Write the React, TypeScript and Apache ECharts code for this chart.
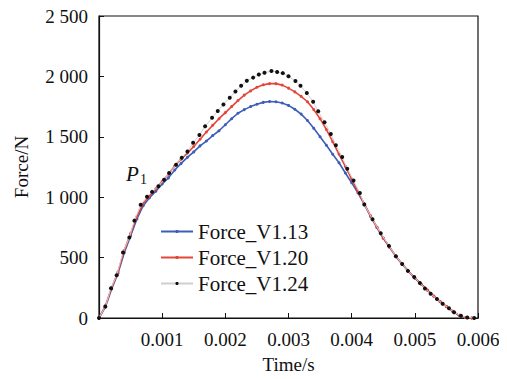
import React, { useEffect, useRef } from "react";
import * as echarts from "echarts";

const seriesNames = ["Force_V1.13", "Force_V1.20", "Force_V1.24"];
const seriesColors = ["#3d5db8", "#e2463a", "#111111"];

const timeGrid = [
  0, 0.0001, 0.0002, 0.0003, 0.0004, 0.0005, 0.0006, 0.0007, 0.0008, 0.0009,
  0.001, 0.0011, 0.0012, 0.0013, 0.0014, 0.0015, 0.0016, 0.0017, 0.0018, 0.0019,
  0.002, 0.0021, 0.0022, 0.0023, 0.0024, 0.0025, 0.0026, 0.0027, 0.0028, 0.0029,
  0.003, 0.0031, 0.0032, 0.0033, 0.0034, 0.0035, 0.0036, 0.0037, 0.0038, 0.0039,
  0.004, 0.0041, 0.0042, 0.0043, 0.0044, 0.0045, 0.0046, 0.0047, 0.0048, 0.0049,
  0.005, 0.0051, 0.0052, 0.0053, 0.0054, 0.0055, 0.0056, 0.0057, 0.0058, 0.0059,
];

const forceV113 = [
  0, 90, 240, 370, 540, 680, 820, 930, 995, 1050,
  1110, 1160, 1225, 1280, 1330, 1375, 1425, 1465, 1510, 1550,
  1600, 1650, 1695, 1725, 1750, 1770, 1785, 1792, 1790, 1780,
  1760, 1728, 1688, 1635, 1570, 1500, 1430, 1355, 1285, 1200,
  1120, 1035, 940, 840, 750, 660, 585, 510, 445, 385,
  330, 280, 230, 180, 135, 95, 55, 22, 5, 0,
];

const forceV120 = [
  0, 100, 250, 380, 560, 700, 840, 950, 1010, 1070,
  1130, 1190, 1260, 1315, 1365, 1420, 1480, 1540, 1595, 1650,
  1700, 1750, 1800, 1845, 1880, 1910, 1930, 1940, 1940, 1928,
  1903, 1872, 1835, 1790, 1725, 1650, 1560, 1460, 1355, 1255,
  1150, 1045, 945, 845, 752, 662, 587, 512, 447, 387,
  332, 282, 232, 182, 137, 96, 56, 22, 5, 0,
];

const timeV124 = [
  0, 0.0001, 0.00019, 0.00028, 0.00038, 0.00048, 0.00056, 0.00066, 0.00076, 0.00084,
  0.00094, 0.00103, 0.00111, 0.00122, 0.00131, 0.0014, 0.00149, 0.00159, 0.00168, 0.00179,
  0.00188, 0.00197, 0.00207, 0.00216, 0.00225, 0.00234, 0.00244, 0.00253, 0.00262, 0.00273,
  0.00282, 0.00291, 0.003, 0.00311, 0.00319, 0.00329, 0.00339, 0.00347, 0.00357, 0.00367,
  0.00375, 0.00385, 0.00393, 0.00403, 0.00413, 0.0042, 0.00433, 0.00446, 0.00459, 0.0047,
  0.0048, 0.00489, 0.00499, 0.00508, 0.00516, 0.00525, 0.00535, 0.00544, 0.00554, 0.00562,
  0.00573, 0.00583, 0.00594,
];

const forceV124 = [
  0, 95, 247, 354, 543, 666, 806, 937, 1003, 1044,
  1090, 1145, 1200, 1268, 1326, 1378, 1450, 1515, 1587, 1658,
  1713, 1768, 1823, 1875, 1922, 1964, 1990, 2015, 2030, 2045,
  2036, 2027, 2001, 1962, 1922, 1862, 1790, 1712, 1620, 1524,
  1430, 1332, 1236, 1138, 1035, 940, 818, 702, 597, 512,
  447, 390, 340, 290, 245, 200, 158, 118, 80, 48,
  18, 5, 0,
];

const yTicks = [0, 500, 1000, 1500, 2000, 2500];
const xTicks = [0, 0.001, 0.002, 0.003, 0.004, 0.005, 0.006];

const FONT = "'Liberation Serif', 'DejaVu Serif', serif";

function pairs(xs: number[], ys: number[]) {
  return xs.map((x, i) => [x, ys[i]]);
}

function fmtThousands(v: number) {
  const s = String(Math.round(v));
  if (s.length <= 3) return s;
  return s.slice(0, s.length - 3) + " " + s.slice(s.length - 3);
}

export default function App() {
  const ref = useRef<HTMLDivElement>(null);
  useEffect(() => {
    if (!ref.current) return;
    const chart = echarts.init(ref.current, undefined, { renderer: "svg" });
    chart.setOption({
      animation: false,
      backgroundColor: "#ffffff",
      grid: {
        left: 99,
        right: 29,
        top: 16,
        bottom: 59,
        show: true,
        borderColor: "#111",
        borderWidth: 1.2,
        backgroundColor: "transparent",
      },
      legend: {
        orient: "vertical",
        left: 155,
        top: 216,
        itemWidth: 32,
        itemHeight: 4,
        itemGap: 5,
        textStyle: { fontFamily: FONT, fontSize: 21, color: "#111" },
        data: seriesNames,
      },
      xAxis: {
        type: "value",
        min: xTicks[0],
        max: xTicks[xTicks.length - 1],
        interval: 0.001,
        name: "Time/s",
        nameLocation: "middle",
        nameGap: 37,
        nameTextStyle: { fontFamily: FONT, fontSize: 19, color: "#111" },
        axisLine: { show: true, lineStyle: { color: "#111", width: 1.2 } },
        axisTick: { show: true, inside: true, length: 5, lineStyle: { color: "#111" } },
        splitLine: { show: false },
        axisLabel: {
          fontFamily: FONT,
          fontSize: 19,
          color: "#111",
          margin: 12,
          formatter: (v: number) => (v === 0 ? "" : v.toFixed(3)),
        },
      },
      yAxis: {
        type: "value",
        min: yTicks[0],
        max: yTicks[yTicks.length - 1],
        interval: 500,
        name: "Force/N",
        nameLocation: "middle",
        nameGap: 68,
        nameTextStyle: { fontFamily: FONT, fontSize: 19, color: "#111" },
        axisLine: { show: true, lineStyle: { color: "#111", width: 1.2 } },
        axisTick: { show: true, inside: true, length: 5, lineStyle: { color: "#111" } },
        splitLine: { show: false },
        axisLabel: {
          fontFamily: FONT,
          fontSize: 19,
          color: "#111",
          margin: 11,
          formatter: (v: number) => fmtThousands(v),
        },
      },
      graphic: [
        {
          type: "text",
          left: 126,
          top: 163,
          style: {
            text: "P",
            fontFamily: FONT,
            fontStyle: "italic",
            fontSize: 21,
            fill: "#111",
          },
        },
        {
          type: "text",
          left: 140,
          top: 172,
          style: {
            text: "1",
            fontFamily: FONT,
            fontSize: 14,
            fill: "#111",
          },
        },
      ],
      series: [
        {
          name: seriesNames[0],
          type: "line",
          data: pairs(timeGrid, forceV113),
          color: seriesColors[0],
          symbol: "circle",
          symbolSize: 3,
          showSymbol: true,
          lineStyle: { width: 1.6, color: seriesColors[0] },
          itemStyle: { color: seriesColors[0] },
          z: 2,
        },
        {
          name: seriesNames[1],
          type: "line",
          data: pairs(timeGrid, forceV120),
          color: seriesColors[1],
          symbol: "circle",
          symbolSize: 3,
          showSymbol: true,
          lineStyle: { width: 1.6, color: seriesColors[1] },
          itemStyle: { color: seriesColors[1] },
          z: 3,
        },
        {
          name: seriesNames[2],
          type: "line",
          data: pairs(timeV124, forceV124),
          color: seriesColors[2],
          symbol: "circle",
          symbolSize: 4,
          showSymbol: true,
          lineStyle: { width: 1, color: "#cfcfcf" },
          itemStyle: { color: seriesColors[2] },
          z: 4,
        },
      ],
    });
    return () => chart.dispose();
  }, []);
  return <div ref={ref} style={{ width: 507, height: 379, margin: -8 }} />;
}
